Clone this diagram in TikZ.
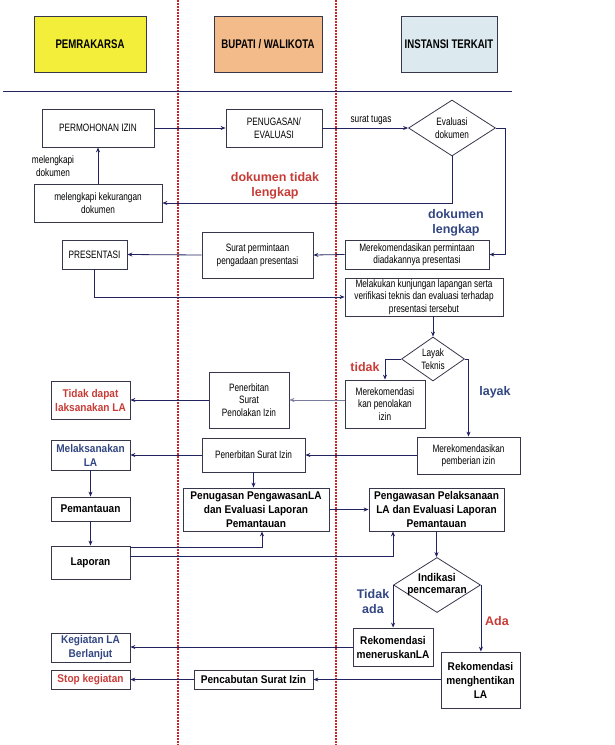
\documentclass[tikz,border=0pt]{standalone}
\usepackage{fontspec}
\setmainfont{Liberation Sans}
\newfontfamily\narrowfont[FakeStretch=0.77]{Liberation Sans}
\newfontfamily\semifont[FakeStretch=0.9]{Liberation Sans}
\usetikzlibrary{shapes.geometric,arrows.meta}
\definecolor{pemyellow}{RGB}{242,238,58}
\definecolor{buporange}{RGB}{243,187,138}
\definecolor{insblue}{RGB}{220,234,240}
\definecolor{boxgray}{RGB}{55,55,75}
\definecolor{linenavy}{RGB}{35,35,95}
\definecolor{labred}{RGB}{200,60,55}
\definecolor{labblue}{RGB}{50,70,130}
\definecolor{lanered}{RGB}{200,40,40}

\begin{document}
\begin{tikzpicture}[x=1pt,y=-1pt,
    sz/.style 2 args={minimum width=#1pt,minimum height=#2pt},
    box/.style={draw=boxgray,line width=0.8pt,inner sep=0pt,align=center,
        font=\narrowfont\fontsize{10.7}{12.5}\selectfont},
    boldbox/.style={box,font=\semifont\bfseries\fontsize{11.2}{14}\selectfont},
    redbox/.style={boldbox,text=labred},
    bluebox/.style={boldbox,text=labblue},
    head/.style={box,line width=0.9pt,font=\narrowfont\bfseries\fontsize{12.5}{14}\selectfont},
    decision/.style={box,shape=diamond,aspect=1.4},
    link/.style={draw=linenavy,line width=0.8pt,-{Stealth[length=5pt,width=4pt]}},
    note/.style={align=center,inner sep=0pt,font=\narrowfont\fontsize{10.7}{12.5}\selectfont},
    redlabel/.style={align=center,inner sep=0pt,text=labred,font=\bfseries\fontsize{12.5}{15}\selectfont},
    bluelabel/.style={redlabel,text=labblue},
    lane/.style={draw=lanered,line width=2pt,dash pattern=on 2pt off 1pt}]
    \useasboundingbox (0,0) rectangle (614,745);

    \draw[lane] (178,0) -- (178,745);
    \draw[lane] (336,0) -- (336,745);
    \draw[draw=linenavy,line width=0.8pt] (3,91) -- (512,91);

    \node[head,sz={112}{56},fill=pemyellow] (hpem) at (90,44) {PEMRAKARSA};
    \node[head,sz={108}{56},fill=buporange] (hbup) at (268,44) {BUPATI / WALIKOTA};
    \node[head,sz={96}{56},fill=insblue] (hins) at (449,44) {INSTANSI TERKAIT};

    \node[box,sz={112}{38}] (permohonan) at (98,128) {PERMOHONAN IZIN};
    \node[box,sz={96}{38}] (penugasan) at (274,128) {PENUGASAN/\\EVALUASI};
    \node[decision,sz={87}{56}] (evaldok) at (452,128) {Evaluasi\\dokumen};
    \node[box,sz={128}{38}] (kurang) at (98,203) {melengkapi kekurangan\\dokumen};
    \node[box,sz={65}{29}] (presentasi) at (94.5,254.5) {PRESENTASI};
    \node[box,sz={111}{46}] (suratminta) at (257.5,255) {Surat permintaan\\pengadaan presentasi};
    \node[box,sz={144}{29}] (rekminta) at (417,254.5) {Merekomendasikan permintaan\\diadakannya presentasi};
    \node[box,sz={158}{38}] (kunjungan) at (424,297) {Melakukan kunjungan lapangan serta\\verifikasi teknis dan evaluasi terhadap\\presentasi tersebut};
    \node[decision,sz={63}{44}] (layak) at (433,359) {Layak\\Teknis};
    \node[box,sz={80}{48}] (rektolak) at (385,404) {Merekomendasi\\kan penolakan\\izin};
    \node[box,sz={80}{56}] (terbittolak) at (249,400) {Penerbitan\\Surat\\Penolakan Izin};
    \node[redbox,sz={79}{38}] (tidakdapat) at (90.5,400) {Tidak dapat\\laksanakan LA};
    \node[bluebox,sz={79}{30}] (melaksanakan) at (90.5,455) {Melaksanakan\\LA};
    \node[box,sz={103}{34}] (terbitizin) at (253.5,455) {Penerbitan Surat Izin};
    \node[box,sz={103}{37}] (rekberi) at (468.5,455.5) {Merekomendasikan\\pemberian izin};
    \node[boldbox,sz={146}{43}] (tugasawas) at (256,509.5) {Penugasan PengawasanLA\\dan Evaluasi Laporan\\Pemantauan};
    \node[boldbox,sz={135}{43}] (pengawasan) at (436.5,509.5) {Pengawasan Pelaksanaan\\LA dan Evaluasi Laporan\\Pemantauan};
    \node[boldbox,sz={79}{24}] (pemantauan) at (90.5,509) {Pemantauan};
    \node[boldbox,sz={79}{33}] (laporan) at (90.5,562.5) {Laporan};
    \node[decision,sz={87}{55},font=\semifont\bfseries\fontsize{11.2}{12}\selectfont] (indikasi) at (437,585)
        {\makebox[0pt]{Indikasi}\\\makebox[0pt]{pencemaran}};
    \node[boldbox,sz={80}{38}] (rekterus) at (393,647) {Rekomendasi\\meneruskanLA};
    \node[boldbox,sz={79}{56}] (rekhenti) at (480.5,680) {Rekomendasi\\menghentikan\\LA};
    \node[bluebox,sz={79}{29}] (kegiatan) at (90.5,647.5) {Kegiatan LA\\Berlanjut};
    \node[redbox,sz={79}{19}] (stop) at (90.5,679.5) {Stop kegiatan};
    \node[boldbox,sz={119}{19}] (pencabutan) at (253.5,679.5) {Pencabutan Surat Izin};

    \node[note] (surattugas) at (371,120) {surat tugas};
    \node[note] (lengkapidok) at (53,166) {melengkapi\\dokumen};
    \node[redlabel] (tidaklengkap) at (275,186) {dokumen tidak\\lengkap};
    \node[bluelabel] (lengkap) at (456,223) {dokumen\\lengkap};
    \node[redlabel] (tidak) at (365,367) {tidak};
    \node[bluelabel] (layaklabel) at (495,392) {layak};
    \node[bluelabel] (tidakada) at (373,602) {Tidak\\ada};
    \node[redlabel] (ada) at (497,621) {Ada};

    \draw[link] (permohonan.east) -- (penugasan.west);
    \draw[link] (penugasan.east) -- (evaldok.west);
    \draw[link] (evaldok.east) -- ++(9,0) |- (rekminta.east);
    \draw[link] (evaldok.south) |- (kurang.east);
    \draw[link] (kurang.north) -- (permohonan.south);
    \draw[link] (rekminta.west) -- (suratminta.east);
    \draw[link] (suratminta.west) -- (presentasi.east);
    \draw[link] (presentasi.south) |- (kunjungan.west);
    \draw[link] (kunjungan.south -| layak.north) -- (layak.north);
    \draw[link] (layak.west) -| (rektolak.north);
    \draw[link] (layak.east) -| (rekberi.north);
    \draw[link,line width=0.5pt,draw=linenavy!60] (rektolak.west |- terbittolak.east) -- (terbittolak.east);
    \draw[link] (terbittolak.west) -- (tidakdapat.east);
    \draw[link] (rekberi.west |- terbitizin.east) -- (terbitizin.east);
    \draw[link] (terbitizin.west) -- (melaksanakan.east);
    \draw[link] (terbitizin.south) -- (terbitizin.south |- tugasawas.north);
    \draw[link] (tugasawas.east) -- (pengawasan.west);
    \draw[link] (melaksanakan.south) -- (pemantauan.north);
    \draw[link] (pemantauan.south) -- (laporan.north);
    \draw[link] ([yshift=15pt]laporan.east) -| ([xshift=6pt]tugasawas.south);
    \draw[link] ([yshift=6pt]laporan.east) -| ([xshift=-43.5pt]pengawasan.south);
    \draw[link] (pengawasan.south) -- (pengawasan.south |- indikasi.north);
    \draw[link] (indikasi.west) -- (indikasi.west |- rekterus.north);
    \draw[link] (indikasi.east) -- (indikasi.east |- rekhenti.north);
    \draw[link] (rekterus.west) -- (rekterus.west -| kegiatan.east);
    \draw[link] (rekhenti.west |- pencabutan.east) -- (pencabutan.east);
    \draw[link] (pencabutan.west) -- (stop.east);
\end{tikzpicture}
\end{document}
